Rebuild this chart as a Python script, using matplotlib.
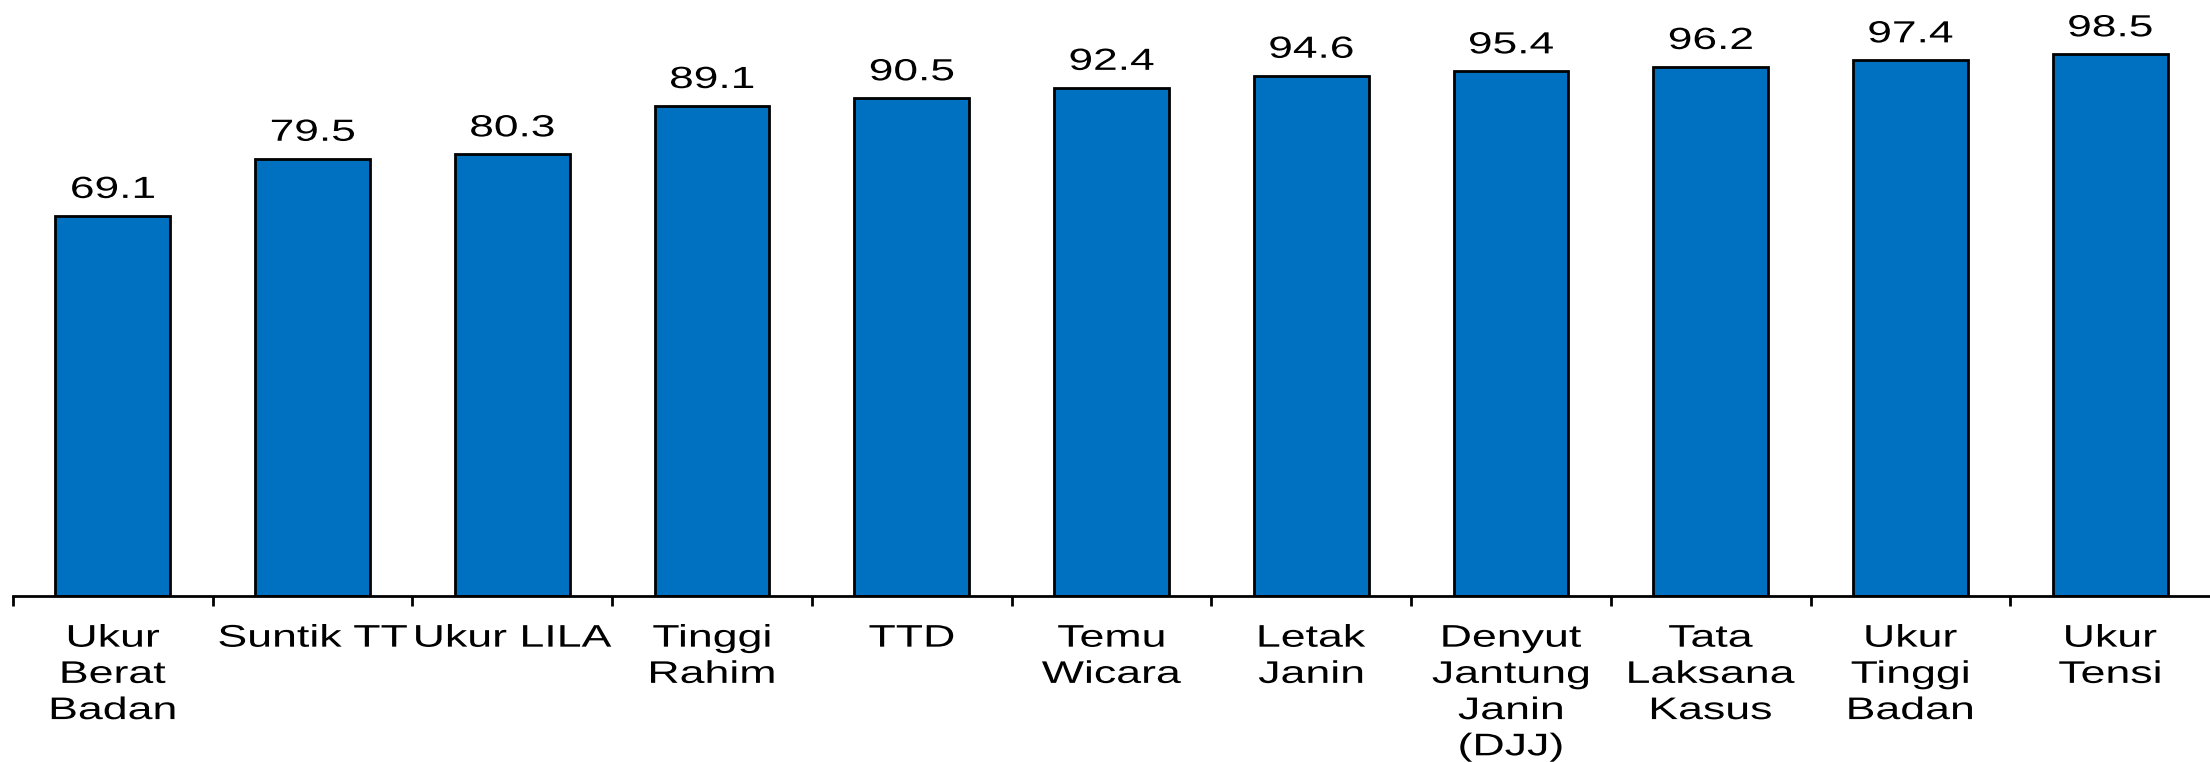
import matplotlib.pyplot as plt
import numpy as np
from matplotlib.patheffects import AbstractPathEffect
from matplotlib.transforms import Affine2D

kategori = ["Ukur\nBerat\nBadan", "Suntik TT", "Ukur LILA", "Tinggi\nRahim", "TTD",
            "Temu\nWicara", "Letak\nJanin", "Denyut\nJantung\nJanin\n(DJJ)",
            "Tata\nLaksana\nKasus", "Ukur\nTinggi\nBadan", "Ukur\nTensi"]
nilai = [69.1, 79.5, 80.3, 89.1, 90.5, 92.4, 94.6, 95.4, 96.2, 97.4, 98.5]

plt.rcParams['font.family'] = ['Liberation Sans', 'DejaVu Sans']


# teks di gambar asli tampak melebar ke samping, jadi diregangkan horizontal
class Lebar(AbstractPathEffect):
    def __init__(self, sx):
        super().__init__()
        self.sx = sx

    def draw_path(self, renderer, gc, tpath, affine, rgbFace=None):
        bb = tpath.get_extents(affine)
        cx = (bb.x0 + bb.x1) / 2
        tr = affine + Affine2D().translate(-cx, 0).scale(self.sx, 1).translate(cx, 0)
        renderer.draw_path(gc, tpath, tr, rgbFace)


fig = plt.figure(figsize=(22.1, 7.62), dpi=100)
ax = fig.add_axes([0.0059, 0.218, 0.9941, 0.782])

x = np.arange(len(kategori))
ax.bar(x, nilai, width=0.575, color='#0070C0', edgecolor='black', linewidth=2.0)

for xi, v in zip(x, nilai):
    t = ax.annotate(f"{v:.1f}", (xi, v), xytext=(0, 8), textcoords='offset points',
                    ha='center', va='bottom', fontsize=22)
    t.set_path_effects([Lebar(1.45)])

ax.set_xlim(-0.5, len(kategori) - 0.5)
ax.set_ylim(0, 108.4)

ax.set_xticks(x)
ax.set_xticklabels(kategori, fontsize=22.5, linespacing=1.27)
for lbl in ax.get_xticklabels():
    lbl.set_path_effects([Lebar(1.43)])
ax.set_xticks(np.arange(-0.5, len(kategori) - 0.5, 1), minor=True)
ax.tick_params(axis='x', which='major', length=0, pad=20)
ax.tick_params(axis='x', which='minor', length=7, width=2, direction='out')
ax.set_yticks([])

for s in ['top', 'right', 'left']:
    ax.spines[s].set_visible(False)
ax.spines['bottom'].set_linewidth(2)

fig.savefig('out.png', dpi=100)
